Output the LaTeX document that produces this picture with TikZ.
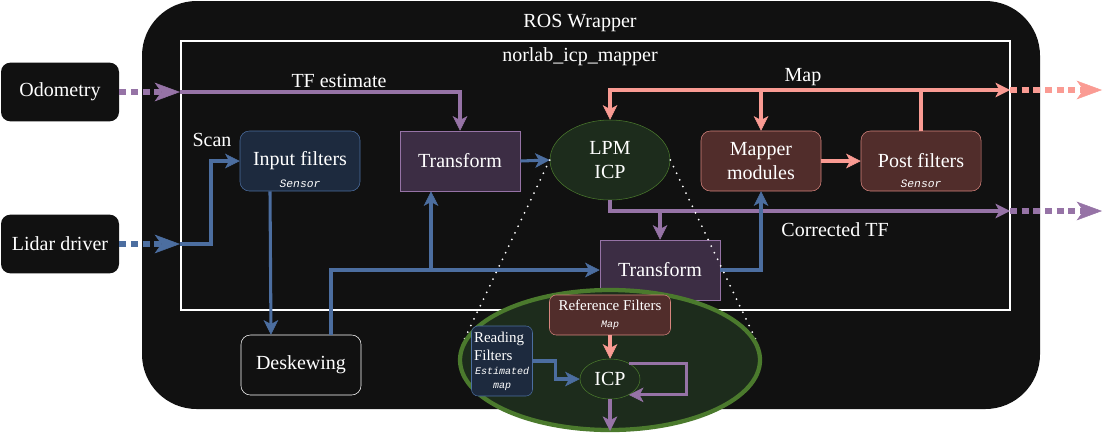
\documentclass[tikz,border=0pt]{standalone}
\usepackage{fontspec}
\setmainfont{Liberation Serif}
\setmonofont{Liberation Mono}
\usetikzlibrary{positioning,arrows.meta,shapes.geometric}
\definecolor{bg}{RGB}{17,17,17}
\definecolor{bluef}{RGB}{29,42,62}
\definecolor{bluel}{RGB}{76,110,160}
\definecolor{purf}{RGB}{60,45,68}
\definecolor{purl}{RGB}{150,115,166}
\definecolor{redf}{RGB}{81,45,43}
\definecolor{redl}{RGB}{215,133,126}
\definecolor{mapc}{RGB}{250,155,147}
\definecolor{grnf}{RGB}{29,44,28}
\definecolor{grnl}{RGB}{75,122,45}
\newcommand{\tagtxt}{\ttfamily\itshape\fontsize{7.5}{10.5}\selectfont}

\begin{document}
\begin{tikzpicture}[x=0.75pt, y=-0.75pt, every node/.style={font=\fontsize{15}{18}\selectfont, text=white},
  src/.style={fill=bg, rounded corners=7pt, minimum width=88.5pt, minimum height=44pt},
  box/.style={draw, rounded corners=7pt, minimum width=90pt, minimum height=45pt, align=center, inner sep=2pt},
  flt/.style={box, draw=bluel, fill=bluef},
  tfm/.style={box, sharp corners, draw=purl, fill=purf},
  mpr/.style={box, draw=redl, fill=redf},
  ell/.style={ellipse, draw=grnl, fill=grnf, inner sep=0pt, align=center},
  tag/.style={anchor=south, inner sep=2.5pt, font=\ttfamily\itshape\fontsize{8.5}{10}\selectfont},
  a/.style={line width=2.3pt, -{Stealth[length=11pt, width=11pt, inset=3pt, line width=0.4pt]}},
  da/.style={line width=4.5pt, dash pattern=on 5.25pt off 3.5pt, -{Stealth[length=19pt, width=14pt, inset=5pt, line width=0.4pt]}},
  zl/.style={white, line width=1.5pt, line cap=round, dash pattern=on 0pt off 5.5pt}]
\useasboundingbox (0,0) rectangle (1112,440);
% wrapper and mapper frames
\fill[bg, rounded corners=41pt] (142,1) rectangle (1040,409);
\node (ros) at (580,23) {ROS Wrapper};
\draw[white, line width=0.8pt] (181,41) rectangle (1010,310);
\node (icpm) at (580,57) {norlab\_icp\_mapper};

\node[src] (odom) at (60,92) {Odometry};
\node[src] (lidar) at (60,244) {Lidar driver};
\node[flt, label={[tag]south:Sensor}] (infilt) at (300,161) {Input filters};
\node[tfm] (tf1) at (460,161) {Transform};
\node[ell, minimum width=90pt, minimum height=60pt] (lpm) at (610,160) {LPM\\ICP};
\node[mpr] (mapper) at (761,161) {Mapper\\modules};
\node[mpr, label={[tag]south:Sensor}] (post) at (921,161) {Post filters};
\node[tfm] (tf2) at (660,270) {Transform};
\node[box, draw=white, fill=bg] (desk) at (301,365) {Deskewing};

\node (scan) at (212,140) {Scan};
\node (tfest) at (339,81) {TF estimate};
\node (maptxt) at (803,77) {Map};
\node (corr) at (835,230) {Corrected TF};

\coordinate (odin) at (180,92);
\coordinate (liin) at (180,244);
\coordinate (mapout) at (1010,90);
\coordinate (mapend) at (1102,90);
\coordinate (tfout) at (1010,211);
\coordinate (tfend) at (1102,211);
\coordinate (jn) at (431,270);

% inputs
\draw[da, purl] (odom.east) -- (odin);
\draw[a, purl] (odin) -| (tf1.north);
\draw[da, bluel] (lidar.east) -- (liin);
\draw[a, bluel] (liin) -- ++(31,0) |- (infilt.west);
\draw[a, bluel] ([xshift=-22.5pt]infilt.south) -- ([xshift=-22.5pt]desk.north);
\draw[a, bluel] ([xshift=22.5pt]desk.north) |- (tf2.west);
\draw[a, bluel] (jn) -- (jn |- tf1.south);
\draw[a, bluel] (tf1.east) -- (lpm.west);
% map and corrected tf
\draw[a, mapc] (post.north) |- (mapout);
\draw[a, mapc] (post.north |- mapout) -| (lpm.north);
\draw[a, mapc] (mapper.north |- mapout) -- (mapper.north);
\draw[a, mapc] (mapper.east) -- (post.west);
\draw[da, mapc] (mapout) -- (mapend);
\draw[a, purl] (lpm.south) |- (tfout);
\draw[da, purl] (tfout) -- (tfend);
\draw[a, purl] (tf2.north |- tfout) -- (tf2.north);
\draw[a, bluel] (tf2.east) -| (mapper.south);

% zoom on LPM ICP
\draw[zl] (lpm.west) -- (464,340);
\draw[zl] (lpm.east) -- (756,340);
\node[ell, line width=3.2pt, minimum width=225pt, minimum height=105pt] (zoomv) at (610,360) {};
\node[mpr, minimum width=90.75pt, minimum height=30pt, rounded corners=5pt, inner sep=1pt, font=\fontsize{11.25}{13}\selectfont] (ref) at (610,315) {Reference Filters\\{\tagtxt Map}};
\node[flt, minimum width=45.75pt, minimum height=52.5pt, rounded corners=5pt, text width=42pt, align=left, inner sep=1.5pt, font=\fontsize{11.25}{13.5}\selectfont] (read) at (502,361) {Reading\\Filters\par{\centering\tagtxt Estimated\\map\par}};
\node[ell, minimum width=45pt, minimum height=30pt] (icp) at (610,379) {ICP};
\coordinate (icpout) at (610,431);
\draw[a, mapc] (ref) -- (icp);
\draw[a, bluel] (read.east) -- ++(23,0) |- (icp.west);
\draw[a, purl] (icp.40) -- ++(58,0) |- (icp.-40);
\draw[a, purl] (icp.south) -- (icpout);
\end{tikzpicture}
\end{document}
